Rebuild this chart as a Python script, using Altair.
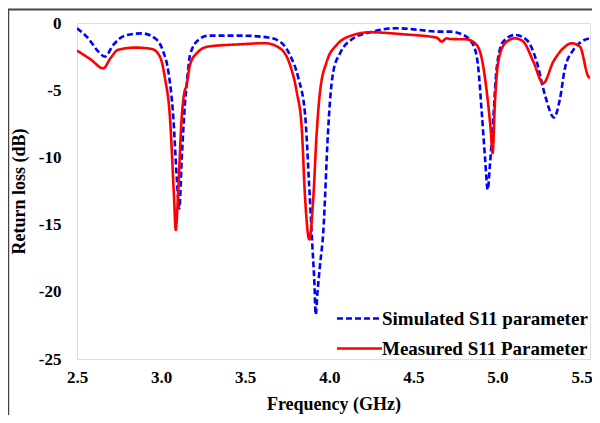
import altair as alt
import pandas as pd

# Simulated S11 (blue dashed)
sim_freq = [2.500, 2.567, 2.627, 2.666, 2.716, 2.785, 2.885, 2.964, 3.013, 3.043,
            3.073, 3.093, 3.108, 3.125, 3.142, 3.152, 3.172, 3.221, 3.281, 3.479,
            3.637, 3.707, 3.766, 3.816, 3.856, 3.880, 3.899, 3.912, 3.919, 3.930,
            3.945, 3.964, 3.992, 4.004, 4.024, 4.064, 4.143, 4.242, 4.401, 4.539,
            4.639, 4.718, 4.797, 4.856, 4.886, 4.906, 4.926, 4.942, 4.955, 4.975,
            4.995, 5.034, 5.104, 5.174, 5.233, 5.282, 5.336, 5.372, 5.401, 5.451,
            5.500, 5.550]
sim_db = [-0.39, -1.14, -2.13, -2.5, -1.63, -0.94, -0.77, -1.14, -2.13, -3.6,
          -7.1, -11.5, -13.8, -9.5, -6.0, -4.6, -2.38, -1.26, -0.94, -0.94,
          -1.08, -1.38, -2.38, -4.1, -6.8, -12.0, -16.5, -19.5, -21.7, -20.0,
          -18.0, -15.6, -8.2, -5.84, -3.6, -2.25, -1.14, -0.69, -0.39, -0.52,
          -0.64, -0.64, -0.89, -1.63, -3.37, -6.58, -10.05, -12.4, -10.55, -7.08,
          -3.37, -1.38, -0.89, -1.26, -2.87, -5.35, -7.03, -5.6, -3.37, -2.0,
          -1.38, -1.14]

# Measured S11 (red solid)
meas_freq = [2.500, 2.580, 2.656, 2.700, 2.744, 2.845, 2.944, 2.993, 3.023, 3.053,
             3.077, 3.087, 3.100, 3.122, 3.135, 3.152, 3.172, 3.212, 3.281, 3.479,
             3.618, 3.707, 3.766, 3.806, 3.836, 3.856, 3.881, 3.905, 3.925, 3.945,
             3.985, 4.044, 4.143, 4.242, 4.440, 4.639, 4.668, 4.698, 4.718, 4.817,
             4.876, 4.906, 4.936, 4.960, 4.971, 4.985, 5.005, 5.045, 5.104, 5.153,
             5.213, 5.272, 5.332, 5.391, 5.441, 5.490, 5.540, 5.550]
meas_db = [-2.05, -2.7, -3.37, -2.6, -2.0, -1.83, -1.93, -2.5, -4.1, -7.1,
           -13.0, -15.4, -13.0, -7.1, -5.4, -4.6, -3.1, -2.25, -1.75, -1.58,
           -1.5, -1.88, -3.1, -5.1, -7.8, -13.0, -16.1, -13.0, -8.2, -5.1,
           -2.87, -1.63, -0.89, -0.69, -0.84, -1.09, -1.38, -1.14, -1.19, -1.22,
           -1.63, -2.62, -5.1, -8.0, -9.68, -5.84, -2.87, -1.51, -1.14, -1.38,
           -2.87, -4.48, -2.87, -1.88, -1.51, -1.75, -3.98, -4.1]

series_names = ["Simulated S11 parameter", "Measured S11 Parameter"]
x_ticks = [2.5, 3.0, 3.5, 4.0, 4.5, 5.0, 5.5]
y_ticks = [0, -5, -10, -15, -20, -25]

df = pd.concat([
    pd.DataFrame({"freq": sim_freq, "db": sim_db, "series": series_names[0]}),
    pd.DataFrame({"freq": meas_freq, "db": meas_db, "series": series_names[1]}),
])

FONT = "Liberation Serif"

lines = alt.Chart(df).mark_line(interpolate="monotone", strokeWidth=2.6, clip=True).encode(
    x=alt.X("freq:Q",
            scale=alt.Scale(domain=[2.5, 5.55], nice=False, zero=False),
            axis=alt.Axis(title="Frequency (GHz)", values=x_ticks, format=".1f",
                          grid=False, ticks=False, domain=False, labelFlush=False,
                          labelFont=FONT, labelFontSize=17, labelFontWeight="bold",
                          labelColor="black", labelPadding=10,
                          titleFont=FONT, titleFontSize=18, titleFontWeight="bold",
                          titleColor="black", titlePadding=10)),
    y=alt.Y("db:Q",
            scale=alt.Scale(domain=[-25, 0], nice=False),
            axis=alt.Axis(title="Return loss (dB)", values=y_ticks,
                          labelExpr="datum.value == 0 ? '0' : '-' + abs(datum.value)",
                          grid=False, ticks=False, domain=False, labelFlush=False,
                          labelFont=FONT, labelFontSize=17, labelFontWeight="bold",
                          labelColor="black", labelPadding=16,
                          titleFont=FONT, titleFontSize=18, titleFontWeight="bold",
                          titleColor="black", titlePadding=10)),
    color=alt.Color("series:N",
                    scale=alt.Scale(domain=series_names, range=["#0000FF", "#FF0000"]),
                    legend=alt.Legend(title=None, orient="none", legendX=273, legendY=286,
                                      symbolType="M-3,0H3", symbolSize=225,
                                      symbolStrokeWidth=2.6, labelFont=FONT,
                                      labelFontSize=19, labelFontWeight="bold",
                                      labelColor="black", labelOffset=13, rowPadding=10,
                                      labelLimit=0, padding=0)),
    strokeDash=alt.StrokeDash("series:N",
                              scale=alt.Scale(domain=series_names, range=[[6, 3], [1, 0]]),
                              legend=None),
)

frame_df = pd.DataFrame({"k": [0]})
frame_v = alt.Chart(frame_df).mark_rule(color="#444444", strokeWidth=1.5).encode(
    x=alt.value(-68.5), y=alt.value(-13.5), y2=alt.value(420))
frame_h = alt.Chart(frame_df).mark_rule(color="#444444", strokeWidth=2).encode(
    x=alt.value(-69), x2=alt.value(560), y=alt.value(-13.5))

chart = alt.layer(lines, frame_v, frame_h).properties(
    width=513, height=336,
    autosize=alt.AutoSizeParams(type="none"),
    padding={"left": 69, "top": 15, "right": 2, "bottom": 56},
).configure_view(stroke="#333333", strokeWidth=2.2).configure(background="white")

chart.save("out.html", embed_options={"renderer": "svg", "actions": False})
